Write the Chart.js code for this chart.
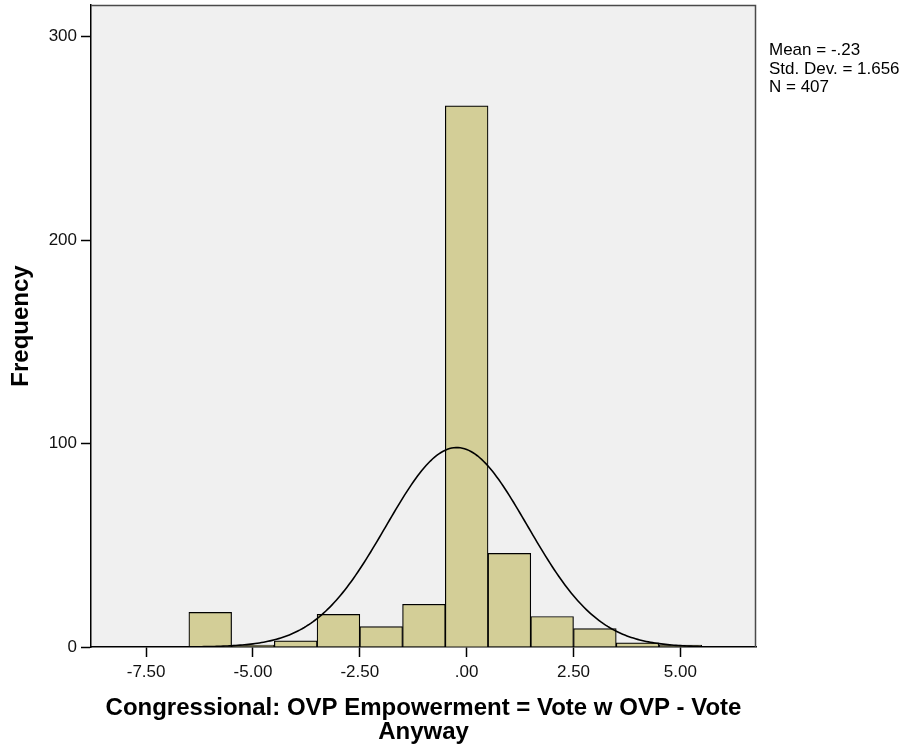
<!DOCTYPE html>
<html>
<head>
<meta charset="utf-8">
<title>OVP Empowerment histogram</title>
<script src="https://cdn.jsdelivr.net/npm/chart.js@4.4.1/dist/chart.umd.min.js"></script>
<style>
  html, body { margin: 0; padding: 0; background: #ffffff; }
  #wrap { position: relative; width: 909px; height: 746px; }
</style>
</head>
<body>
<div id="wrap"><canvas id="chart" width="909" height="746"></canvas></div>
<script>
// Histogram bins: bin centres (width 1) and their counts
const binCenters = [-6, -5, -4, -3, -2, -1, 0, 1, 2, 3, 4, 5];
const binCounts  = [17, 1, 3, 16, 10, 21, 266, 46, 15, 9, 2, 1];
const BIN_WIDTH = 1;

// Summary statistics shown beside the plot
const MEAN = -0.23;
const STD_DEV = 1.656;
const N = 407;
const statLines = ['Mean = -.23', 'Std. Dev. = 1.656', 'N = 407'];

// Axis ticks and labels
const xTicks = [-7.5, -5, -2.5, 0, 2.5, 5];
const yTicks = [0, 100, 200, 300];
const xTitle = ['Congressional: OVP Empowerment = Vote w OVP - Vote', 'Anyway'];
const yTitle = 'Frequency';

// Fitted normal curve scaled to counts: N * binWidth * pdf(x; MEAN, STD_DEV)
function normalCount(x) {
  const z = (x - MEAN) / STD_DEV;
  return N * BIN_WIDTH * Math.exp(-0.5 * z * z) / (STD_DEV * Math.sqrt(2 * Math.PI));
}
const curveStart = binCenters[0] - BIN_WIDTH / 2;
const curveEnd = binCenters[binCenters.length - 1] + BIN_WIDTH / 2;
const curvePoints = [];
for (let i = 0; i <= 240; i++) {
  const x = curveStart + (curveEnd - curveStart) * i / 240;
  curvePoints.push({ x: x, y: normalCount(x) });
}

const FONT = '"Liberation Sans", Arial, Helvetica, sans-serif';

function fmtTick(v) {
  return v.toFixed(2).replace(/^(-?)0\./, '$1.');
}

// Grey plot background plus frame on the top and right
const plotFrame = {
  id: 'plotFrame',
  beforeDraw(chart) {
    const { ctx, chartArea: a } = chart;
    ctx.save();
    ctx.fillStyle = '#f0f0f0';
    ctx.fillRect(a.left, a.top, a.right - a.left, a.bottom - a.top);
    ctx.restore();
  },
  afterDraw(chart) {
    const { ctx, chartArea: a } = chart;
    ctx.save();
    ctx.strokeStyle = '#4a4a4a';
    ctx.lineWidth = 1.5;
    ctx.beginPath();
    ctx.moveTo(a.left, a.top + 0.5);
    ctx.lineTo(a.right - 0.5, a.top + 0.5);
    ctx.lineTo(a.right - 0.5, a.bottom);
    ctx.stroke();
    // statistics block
    ctx.fillStyle = '#000000';
    ctx.font = '17px ' + FONT;
    ctx.textAlign = 'left';
    ctx.textBaseline = 'alphabetic';
    statLines.forEach((t, i) => ctx.fillText(t, 769, 55 + i * 18.6));
    ctx.restore();
  }
};

function noEdgePadding(scale) {
  scale.paddingTop = 0;
  scale.paddingBottom = 0;
  scale.paddingLeft = 0;
  scale.paddingRight = 0;
}

new Chart(document.getElementById('chart'), {
  type: 'bar',
  data: {
    datasets: [
      {
        type: 'line',
        label: 'Normal',
        data: curvePoints,
        borderColor: '#000000',
        borderWidth: 1.6,
        pointRadius: 0,
        tension: 0,
        fill: false,
        order: 0
      },
      {
        type: 'bar',
        label: 'Frequency',
        data: binCenters.map((c, i) => ({ x: c, y: binCounts[i] })),
        backgroundColor: '#d3ce97',
        borderColor: '#000000',
        borderWidth: 1.2,
        barPercentage: 1,
        categoryPercentage: 1,
        order: 1
      }
    ]
  },
  options: {
    responsive: false,
    animation: false,
    layout: { padding: { left: 0, top: 5, right: 153, bottom: 0 } },
    plugins: {
      legend: { display: false },
      tooltip: { enabled: false }
    },
    scales: {
      x: {
        type: 'linear',
        min: -8.79,
        max: 6.77,
        offset: false,
        afterBuildTicks(scale) { scale.ticks = xTicks.map(v => ({ value: v })); },
        afterFit(scale) { scale.height = 99; noEdgePadding(scale); },
        ticks: {
          color: '#111111',
          font: { family: FONT, size: 17 },
          padding: 5,
          maxRotation: 0,
          autoSkip: false,
          callback: (v) => fmtTick(v)
        },
        grid: {
          offset: false,
          drawOnChartArea: false,
          drawTicks: true,
          tickLength: 10,
          color: '#000000',
          tickWidth: 1.5
        },
        border: { display: true, color: '#000000', width: 1.5 },
        title: {
          display: true,
          text: xTitle,
          color: '#000000',
          font: { family: FONT, size: 24, weight: 'bold', lineHeight: 1.0 },
          padding: { top: 0, bottom: 1.5 }
        }
      },
      y: {
        type: 'linear',
        min: 0,
        max: 315.6,
        afterBuildTicks(scale) { scale.ticks = yTicks.map(v => ({ value: v })); },
        afterFit(scale) { scale.width = 91; noEdgePadding(scale); },
        ticks: {
          color: '#111111',
          font: { family: FONT, size: 17 },
          padding: 4,
          callback: (v) => String(v)
        },
        grid: {
          offset: false,
          drawOnChartArea: false,
          drawTicks: true,
          tickLength: 10,
          color: '#000000',
          tickWidth: 1.5
        },
        border: { display: true, color: '#000000', width: 1.5 },
        title: {
          display: true,
          text: yTitle,
          color: '#000000',
          font: { family: FONT, size: 24, weight: 'bold', lineHeight: 1.15 },
          padding: { top: 8, bottom: 0 }
        }
      }
    }
  },
  plugins: [plotFrame]
});
</script>
</body>
</html>
